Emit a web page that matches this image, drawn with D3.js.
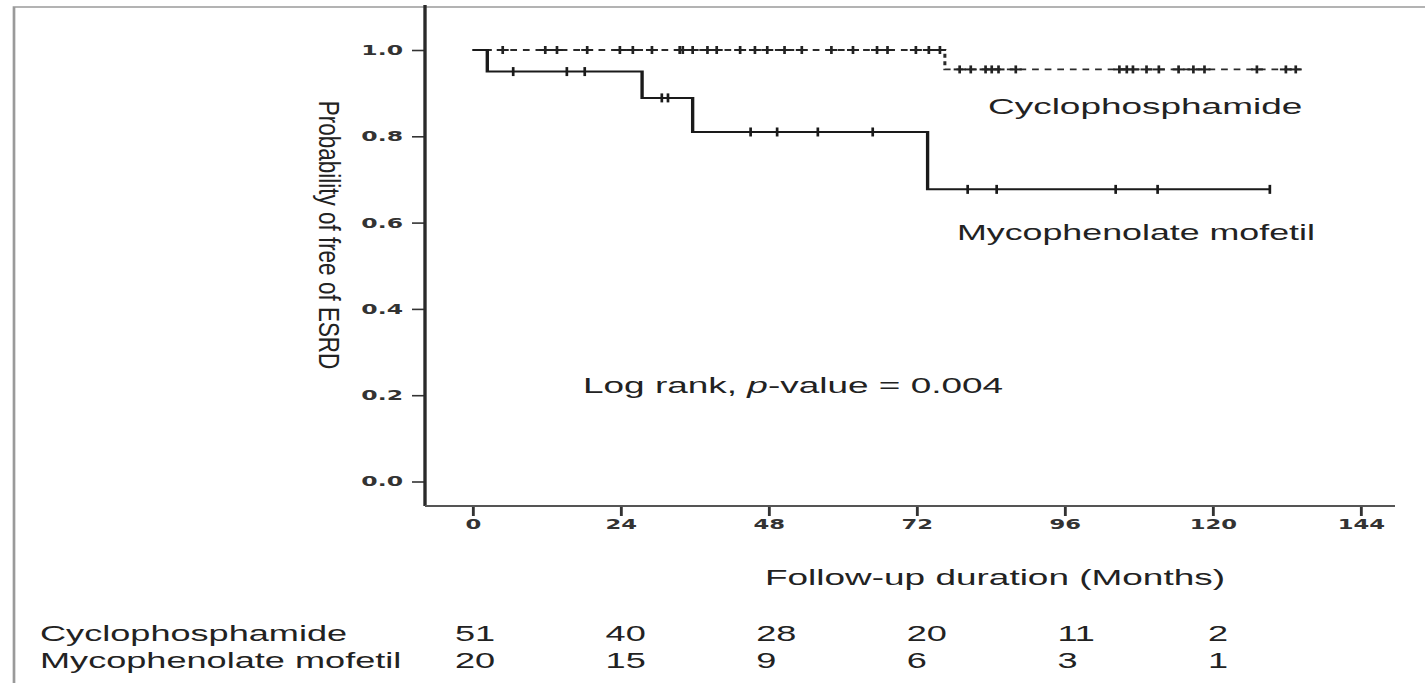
<!DOCTYPE html>
<html>
<head>
<meta charset="utf-8">
<script src="https://cdn.jsdelivr.net/npm/d3@7"></script>
<style>
  html, body { margin: 0; padding: 0; background: #fff; }
  svg { display: block; }
</style>
</head>
<body>
<svg id="chart" width="1425" height="683"></svg>
<script>
// Kaplan-Meier data: event times (months) with survival after each event,
// censored follow-up times, and the end of follow-up per group.
const cycEventTimes = [76.6];
const cycSurvival = [0.955];
const cycCensored = [4.9, 11.8, 13.7, 18.6, 23.9, 26.0, 29.1, 33.6, 34.1, 35.7, 38.1, 39.6,
  43.4, 45.8, 47.8, 50.6, 53.4, 58.2, 61.7, 65.6, 67.3, 71.9, 74.0, 75.8,
  79.0, 80.8, 83.2, 84.2, 85.3, 88.1, 104.9, 106.1, 107.1, 109.3, 111.3, 114.5,
  116.9, 118.7, 127.2, 131.9, 133.5];
const cycEnd = 134.3;

const mmfEventTimes = [2.4, 27.5, 35.7, 73.8];
const mmfSurvival = [0.95, 0.889, 0.81, 0.677];
const mmfCensored = [6.6, 15.3, 18.2, 30.7, 31.7, 45.1, 49.4, 56.0, 64.9, 80.3, 85.0, 104.3, 111.1, 129.3];
const mmfEnd = 129.3;

// Axis ticks
const xTicks = [0, 24, 48, 72, 96, 120, 144];
const yTicks = [0, 0.2, 0.4, 0.6, 0.8, 1.0];

// Numbers at risk
const riskGroups = ["Cyclophosphamide", "Mycophenolate mofetil"];
const riskTimes = [0, 24, 48, 72, 96, 120];
const riskCyc = [51, 40, 28, 20, 11, 2];
const riskMmf = [20, 15, 9, 6, 3, 1];

// ---------------------------------------------------------------
const W = 1425, H = 683;
const SX = 1.68;               // the whole figure is drawn widened horizontally
const px = v => v / SX;        // page x -> x inside the widened group
const FONT = "'Liberation Sans', Arial, sans-serif";
const TICK_FONT = "'DejaVu Sans', sans-serif";

const svg = d3.select("#chart");
svg.append("rect").attr("width", W).attr("height", H).attr("fill", "#fff");
const g = svg.append("g").attr("transform", `scale(${SX},1)`);

const x = d3.scaleLinear().domain([0, 144]).range([px(472.5), px(1360.5)]);
const y = d3.scaleLinear().domain([0, 1]).range([481.5, 50]);

// Frame
g.append("path")
  .attr("d", `M${px(14)},${H} V7 H${px(W)}`)
  .attr("fill", "none").attr("stroke", "#9a9a9a").attr("stroke-width", 1.6);

// Y axis
const yAxis = g.append("g")
  .attr("transform", `translate(${px(425)},0)`)
  .call(d3.axisLeft(y).tickValues(yTicks).tickFormat(d3.format(".1f"))
    .tickSize(px(13)).tickPadding(px(9)));
yAxis.select(".domain").remove();
yAxis.selectAll(".tick line").attr("stroke", "#333").attr("stroke-width", 1.6);
yAxis.selectAll(".tick text")
  .attr("font-family", TICK_FONT).attr("font-weight", "bold")
  .attr("font-size", 14).attr("fill", "#333");
g.append("line")
  .attr("x1", px(425)).attr("x2", px(425)).attr("y1", 5).attr("y2", 506)
  .attr("stroke", "#2a2a2a").attr("stroke-width", 2);

// X axis
const xAxis = g.append("g")
  .attr("transform", "translate(0,506)")
  .call(d3.axisBottom(x).tickValues(xTicks).tickFormat(d3.format("d"))
    .tickSize(10).tickPadding(3));
xAxis.select(".domain").remove();
xAxis.selectAll(".tick line").attr("stroke", "#333").attr("stroke-width", 1.7);
xAxis.selectAll(".tick text")
  .attr("font-family", TICK_FONT).attr("font-weight", "bold")
  .attr("font-size", 13.5).attr("fill", "#333");
g.append("line")
  .attr("x1", px(425)).attr("x2", px(1395)).attr("y1", 506).attr("y2", 506)
  .attr("stroke", "#555").attr("stroke-width", 1.8);

// Step curves
function stepPoints(times, surv, end) {
  const pts = [[0, 1]];
  times.forEach((t, i) => pts.push([t, surv[i]]));
  pts.push([end, surv[surv.length - 1]]);
  return pts;
}
function survAt(times, surv, t) {
  let s = 1;
  times.forEach((et, i) => { if (et <= t) s = surv[i]; });
  return s;
}
const step = d3.line().x(d => x(d[0])).y(d => y(d[1])).curve(d3.curveStepAfter);

// Cyclophosphamide (dashed)
g.append("path")
  .datum(stepPoints(cycEventTimes, cycSurvival, cycEnd))
  .attr("d", step)
  .attr("fill", "none").attr("stroke", "#2a2a2a").attr("stroke-width", 1.8)
  .attr("stroke-dasharray", "4,3.5");
const cycMarks = g.append("g").attr("stroke", "#222");
cycCensored.forEach(t => {
  const cy = y(survAt(cycEventTimes, cycSurvival, t));
  cycMarks.append("line").attr("x1", x(t) - px(6)).attr("x2", x(t) + px(6))
    .attr("y1", cy).attr("y2", cy).attr("stroke-width", 2);
  cycMarks.append("line").attr("x1", x(t)).attr("x2", x(t))
    .attr("y1", cy - 4).attr("y2", cy + 4).attr("stroke-width", 1.6);
});

// Mycophenolate mofetil (solid)
g.append("path")
  .datum(stepPoints(mmfEventTimes, mmfSurvival, mmfEnd))
  .attr("d", step)
  .attr("fill", "none").attr("stroke", "#1a1a1a").attr("stroke-width", 2);
const mmfMarks = g.append("g").attr("stroke", "#1a1a1a");
mmfCensored.forEach(t => {
  const cy = y(survAt(mmfEventTimes, mmfSurvival, t));
  mmfMarks.append("line").attr("x1", x(t)).attr("x2", x(t))
    .attr("y1", cy - 4.5).attr("y2", cy + 4.5).attr("stroke-width", 1.6);
});

// Labels
function label(text, xp, yp, size) {
  return g.append("text").attr("x", px(xp)).attr("y", yp)
    .attr("font-family", FONT).attr("font-size", size).attr("fill", "#222").text(text);
}
label("Cyclophosphamide", 988, 114, 22);
label("Mycophenolate mofetil", 957, 240, 21.3);

const lr = g.append("text").attr("x", px(583)).attr("y", 393)
  .attr("font-family", FONT).attr("font-size", 22).attr("fill", "#222");
lr.append("tspan").text("Log rank, ");
lr.append("tspan").attr("font-style", "italic").text("p");
lr.append("tspan").text("-value = 0.004");

label("Follow-up duration (Months)", 765, 585, 22);

// Y-axis title, read top to bottom
svg.append("text")
  .attr("transform", "translate(319,235) scale(1.3,1) rotate(90)")
  .attr("text-anchor", "middle")
  .attr("font-family", FONT).attr("font-size", 22.5).attr("fill", "#222")
  .text("Probability of free of ESRD");

// Numbers-at-risk table
const riskX = d3.scaleLinear().domain([0, 120]).range([px(455), px(1208)]);
const rows = [riskCyc, riskMmf];
const rowY = d3.scalePoint().domain(riskGroups).range([641, 668]);
riskGroups.forEach((name, r) => {
  g.append("text").attr("x", px(40)).attr("y", rowY(name))
    .attr("font-family", FONT).attr("font-size", 21.5).attr("fill", "#222").text(name);
  g.selectAll(null).data(riskTimes).enter().append("text")
    .attr("x", d => riskX(d)).attr("y", rowY(name))
    .attr("font-family", FONT).attr("font-size", 21.5).attr("fill", "#222")
    .text((d, i) => rows[r][i]);
});
</script>
</body>
</html>
